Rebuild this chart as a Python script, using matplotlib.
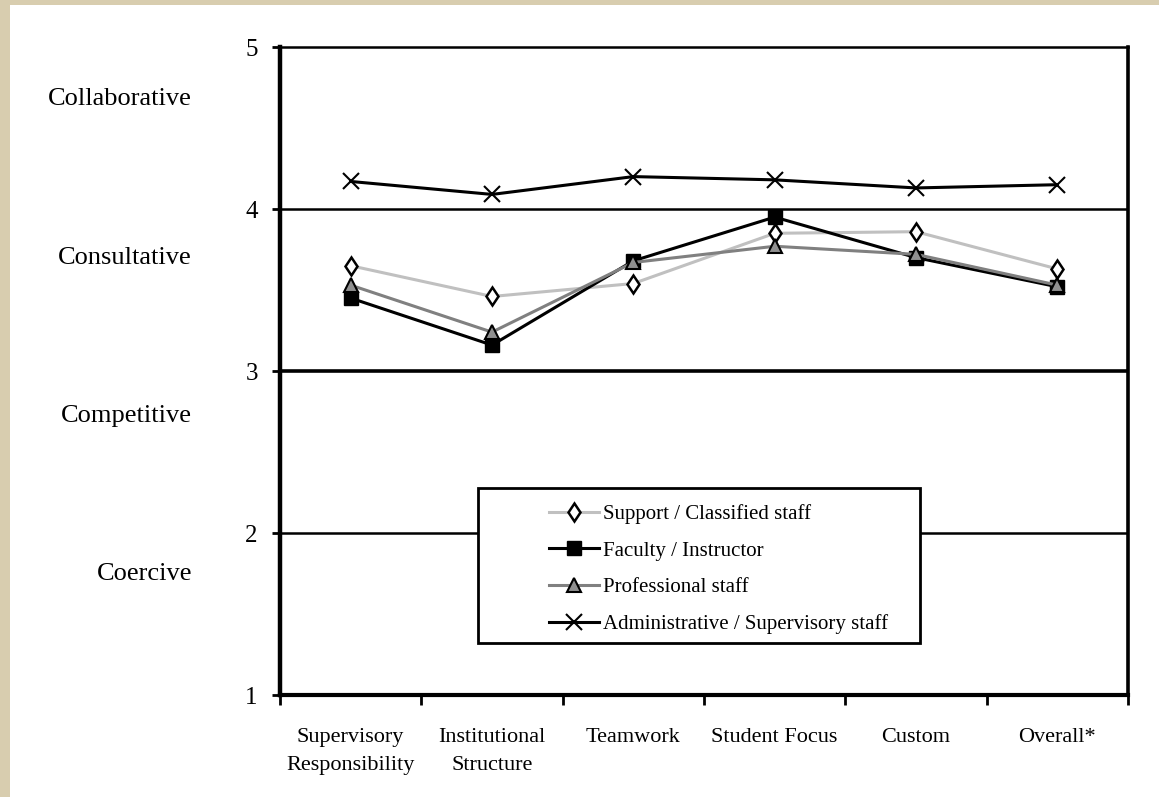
"""Organisational climate profile by staff group."""

import matplotlib.pyplot as plt
from matplotlib.patches import Rectangle

categories = ["Supervisory\nResponsibility", "Institutional\nStructure", "Teamwork",
              "Student Focus", "Custom", "Overall*"]

support = [3.65, 3.46, 3.54, 3.85, 3.86, 3.63]
faculty = [3.45, 3.16, 3.68, 3.95, 3.70, 3.52]
professional = [3.53, 3.24, 3.67, 3.77, 3.72, 3.53]
administrative = [4.17, 4.09, 4.20, 4.18, 4.13, 4.15]

climate_labels = ["Collaborative", "Consultative", "Competitive", "Coercive"]
climate_label_y = [4.68, 3.70, 2.72, 1.75]

plt.rcParams["font.family"] = ["Liberation Serif", "DejaVu Serif"]

W, H = 1159, 797
fig = plt.figure(figsize=(W / 100, H / 100), dpi=100)
fig.patch.set_facecolor("#d8cdaf")
# white page over the beige border
fig.patches.append(Rectangle((10 / W, 0), 1, 1 - 5 / H, transform=fig.transFigure,
                             facecolor="white", edgecolor="none", zorder=-1))

ax = fig.add_axes([280 / W, 1 - 695 / H, (1128 - 280) / W, (695 - 47) / H])
ax.set_facecolor("white")

x = range(len(categories))
ax.plot(x, support, color="#c0c0c0", lw=2.2, marker="d", ms=9.5, mfc="white",
        mec="black", mew=1.8, label="Support / Classified staff", zorder=3)
ax.plot(x, faculty, color="black", lw=2.2, marker="s", ms=9.5, mfc="black",
        mec="black", label="Faculty / Instructor", zorder=3)
ax.plot(x, professional, color="#808080", lw=2.2, marker="^", ms=9.5, mfc="#909090",
        mec="black", mew=1.5, label="Professional staff", zorder=3)
ax.plot(x, administrative, color="black", lw=2.2, marker="x", ms=11, mew=1.5,
        label="Administrative / Supervisory staff", zorder=3)

for yv, lw in [(2, 1.8), (3, 2.6), (4, 1.8)]:
    ax.axhline(yv, color="black", lw=lw, zorder=2)

ax.set_xlim(-0.5, len(categories) - 0.5)
ax.set_ylim(1, 5)
ax.set_yticks([1, 2, 3, 4, 5])
ax.tick_params(axis="y", direction="out", length=6, width=2, pad=10, labelsize=18)

ax.set_xticks(list(x))
ax.set_xticklabels(categories, fontsize=16, linespacing=1.6)
ax.set_xticks([i - 0.5 for i in range(len(categories) + 1)], minor=True)
ax.tick_params(axis="x", which="major", length=0, pad=24)
ax.tick_params(axis="x", which="minor", direction="out", length=7, width=2)

for side, lw in [("left", 3.2), ("bottom", 3.0), ("right", 2.6), ("top", 1.8)]:
    ax.spines[side].set_linewidth(lw)

for lab, yv in zip(climate_labels, climate_label_y):
    ax.text(-0.1038, yv, lab, transform=ax.get_yaxis_transform(), ha="right",
            va="center", fontsize=19)

# legend box
fig.patches.append(Rectangle((478 / W, 1 - 643 / H), (920 - 478) / W, (643 - 488) / H,
                             transform=fig.transFigure, facecolor="white",
                             edgecolor="black", lw=2, zorder=5))
leg = fig.legend(loc="upper left", bbox_to_anchor=(549 / W, 1 - 504 / H), frameon=False,
                 fontsize=15, handlelength=2.4, handletextpad=0.2, labelspacing=0.82,
                 borderpad=0, borderaxespad=0)
leg.set_zorder(6)

fig.savefig("out.png", dpi=100, facecolor=fig.get_facecolor())
